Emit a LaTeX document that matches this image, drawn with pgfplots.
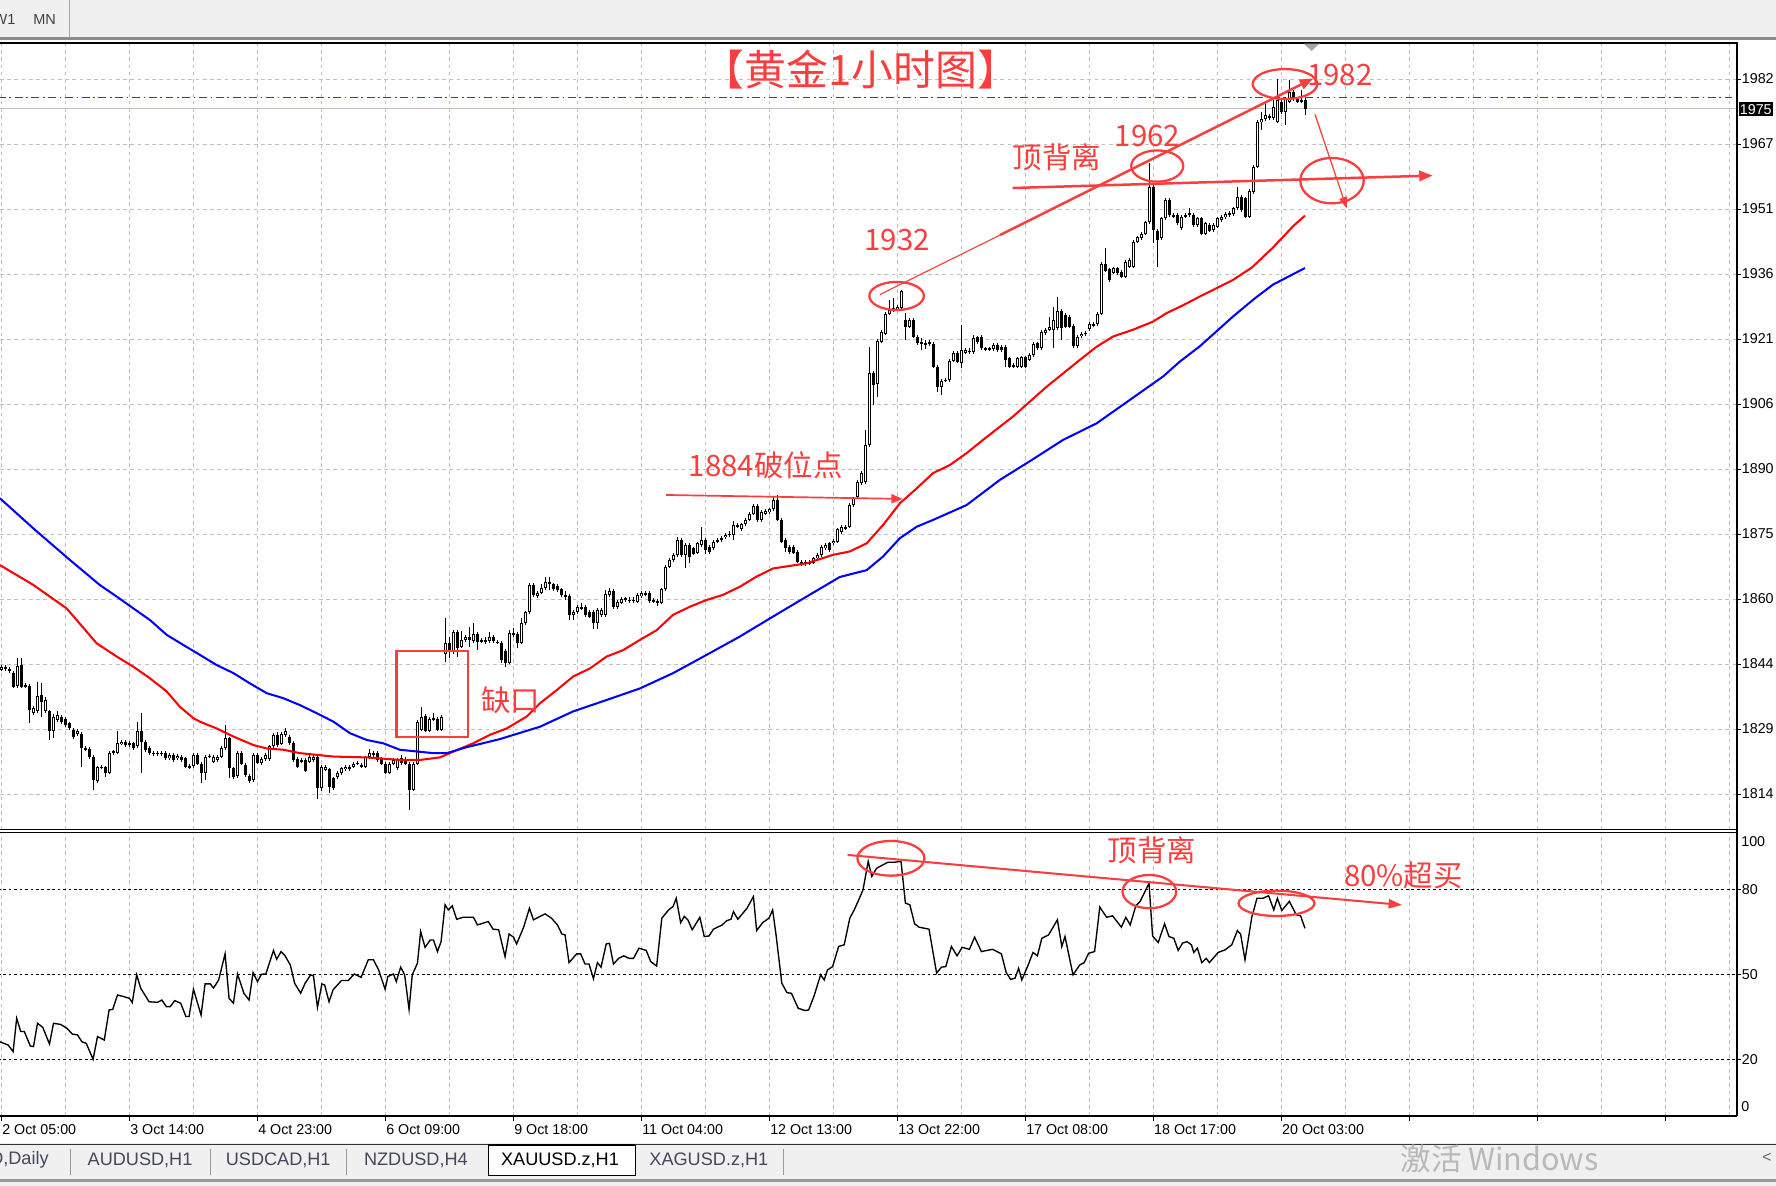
\documentclass[border=0pt]{standalone}
\usepackage{fontspec}
\setmainfont{Liberation Sans}
\newfontfamily\cjk{Noto Sans CJK SC}
\usepackage{pgfplots}
\pgfplotsset{compat=1.18}
\usepackage{pgfplotstable}
\usetikzlibrary{arrows.meta}

\definecolor{annot}{RGB}{250,62,62}
\definecolor{gridc}{RGB}{192,192,192}
\definecolor{barbg}{RGB}{240,240,240}
\definecolor{tabtxt}{RGB}{70,70,90}

\pgfplotstableread{
x o h l c
0 1843.2 1844.4 1842.8 1843.9
1 1843.9 1844.3 1842.9 1843.3
2 1843.4 1843.8 1842.4 1842.8
3 1842.4 1842.8 1838.8 1839.2
4 1839.4 1845.9 1839.0 1844.1
5 1844.3 1845.9 1838.8 1839.2
6 1839.2 1840.0 1838.9 1839.6
7 1839.4 1839.8 1830.8 1833.8
8 1833.0 1834.6 1832.6 1834.2
9 1833.4 1840.4 1833.0 1837.0
10 1837.3 1840.2 1832.2 1835.7
11 1833.4 1836.9 1833.0 1836.1
12 1833.4 1833.8 1826.7 1828.7
13 1828.7 1832.8 1827.1 1832.2
14 1831.4 1833.4 1831.0 1832.6
15 1832.2 1832.6 1830.4 1831.0
16 1831.6 1832.0 1829.8 1830.2
17 1830.6 1831.0 1829.0 1829.5
18 1829.1 1829.5 1827.0 1827.5
19 1828.1 1829.3 1827.7 1828.9
20 1828.1 1828.5 1820.4 1824.8
21 1824.8 1825.2 1824.0 1824.4
22 1824.5 1825.0 1822.2 1822.6
23 1822.8 1823.2 1815.0 1817.3
24 1817.1 1820.6 1816.6 1820.3
25 1820.2 1820.8 1819.8 1820.4
26 1820.3 1820.7 1818.0 1818.9
27 1819.0 1824.0 1818.6 1823.6
28 1823.6 1824.4 1823.2 1824.0
29 1823.7 1828.9 1823.3 1825.9
30 1825.8 1826.7 1825.4 1826.3
31 1826.3 1826.8 1825.1 1825.5
32 1825.5 1826.4 1825.0 1825.9
33 1825.9 1826.3 1824.3 1824.8
34 1825.2 1831.0 1824.8 1828.7
35 1828.7 1833.0 1818.9 1826.3
36 1826.3 1826.7 1823.9 1824.4
37 1824.8 1825.2 1823.1 1823.6
38 1823.7 1824.1 1823.0 1823.4
39 1823.4 1824.2 1822.9 1823.7
40 1823.7 1824.1 1823.0 1823.4
41 1823.6 1824.0 1822.0 1822.4
42 1822.4 1823.6 1822.0 1823.2
43 1823.2 1823.6 1821.6 1822.0
44 1822.4 1823.4 1822.0 1823.0
45 1822.8 1823.2 1821.6 1822.0
46 1822.4 1822.8 1820.0 1820.4
47 1820.6 1821.0 1819.9 1820.3
48 1820.6 1823.6 1820.2 1823.2
49 1823.2 1823.6 1820.7 1821.1
50 1821.1 1821.5 1816.5 1818.9
51 1818.9 1823.2 1817.3 1822.8
52 1822.8 1823.4 1822.4 1823.0
53 1821.6 1823.2 1821.2 1822.8
54 1822.0 1823.2 1821.6 1822.8
55 1822.8 1825.2 1822.4 1824.8
56 1824.8 1830.2 1824.4 1827.1
57 1827.1 1827.5 1817.7 1820.0
58 1820.0 1820.4 1817.5 1818.1
59 1818.2 1824.0 1817.8 1823.6
60 1823.6 1824.0 1820.7 1821.1
61 1820.8 1821.2 1818.0 1818.5
62 1818.2 1818.6 1816.5 1817.1
63 1817.3 1823.6 1816.9 1823.2
64 1823.2 1823.6 1821.0 1821.4
65 1821.2 1822.6 1820.8 1822.2
66 1822.2 1823.6 1821.8 1823.2
67 1822.2 1825.6 1821.8 1825.2
68 1825.3 1828.3 1824.9 1827.9
69 1827.9 1828.5 1825.1 1825.5
70 1825.8 1828.5 1825.4 1828.1
71 1827.9 1829.5 1827.5 1828.7
72 1827.5 1827.9 1825.5 1825.9
73 1826.1 1826.5 1821.6 1822.0
74 1822.2 1822.6 1820.0 1820.4
75 1821.6 1822.4 1821.2 1822.0
76 1822.0 1822.4 1819.1 1819.5
77 1821.6 1823.2 1821.2 1822.8
78 1822.0 1823.4 1821.6 1822.8
79 1822.8 1823.2 1812.8 1815.3
80 1815.3 1820.8 1814.8 1820.4
81 1819.7 1820.9 1819.3 1820.4
82 1819.8 1820.2 1814.2 1815.7
83 1817.7 1818.1 1814.9 1815.3
84 1817.9 1819.3 1817.5 1818.9
85 1818.9 1820.4 1818.5 1820.0
86 1819.8 1820.7 1819.4 1820.3
87 1820.3 1820.7 1819.4 1819.8
88 1820.4 1821.5 1820.0 1821.1
89 1821.1 1821.8 1820.7 1821.4
90 1820.4 1821.4 1820.0 1820.8
91 1820.4 1823.0 1820.0 1822.6
92 1822.6 1824.6 1822.2 1823.7
93 1823.7 1824.1 1822.8 1823.2
94 1823.6 1824.0 1821.6 1822.0
95 1822.4 1822.8 1820.7 1821.1
96 1821.1 1821.5 1818.6 1819.0
97 1819.0 1821.5 1818.6 1821.1
98 1821.1 1822.4 1820.7 1822.0
99 1820.0 1822.4 1819.6 1822.0
100 1822.4 1823.2 1820.8 1821.2
101 1822.2 1822.6 1820.7 1821.1
102 1821.1 1821.5 1810.3 1815.0
103 1815.0 1821.5 1814.6 1821.1
104 1821.1 1831.4 1820.7 1831.0
105 1829.1 1834.5 1828.7 1832.2
106 1832.3 1832.7 1828.5 1828.9
107 1828.9 1832.0 1828.5 1831.6
108 1831.6 1833.0 1831.2 1831.8
109 1831.6 1832.0 1828.7 1829.1
110 1829.1 1832.6 1828.7 1832.2
111 1847.0 1855.3 1845.1 1849.4
112 1849.6 1851.0 1845.9 1847.4
113 1847.4 1852.5 1847.0 1852.1
114 1852.1 1852.5 1846.3 1848.2
115 1848.6 1852.4 1848.2 1850.2
116 1850.2 1851.4 1849.8 1851.0
117 1851.0 1853.3 1848.6 1850.2
118 1850.0 1854.1 1849.6 1851.6
119 1851.6 1852.0 1847.8 1849.8
120 1849.8 1850.6 1849.4 1850.2
121 1850.2 1851.0 1849.2 1849.8
122 1850.0 1852.1 1849.6 1851.0
123 1851.0 1851.4 1849.6 1850.0
124 1849.8 1850.2 1849.2 1849.6
125 1849.6 1850.0 1844.7 1845.5
126 1847.7 1848.1 1843.9 1844.9
127 1844.9 1852.5 1844.5 1851.8
128 1851.8 1852.9 1851.0 1851.4
129 1851.6 1852.0 1848.2 1849.6
130 1849.6 1855.3 1849.2 1854.1
131 1854.1 1857.1 1853.7 1856.7
132 1856.7 1863.5 1856.3 1863.1
133 1863.1 1863.5 1860.4 1860.8
134 1860.5 1861.7 1860.1 1861.3
135 1861.3 1863.3 1860.9 1862.3
136 1862.3 1864.9 1861.9 1863.9
137 1863.9 1864.9 1861.9 1863.3
138 1863.3 1863.7 1861.7 1862.1
139 1862.9 1863.3 1861.5 1861.9
140 1862.1 1862.5 1860.4 1860.8
141 1860.8 1861.6 1859.6 1860.4
142 1860.5 1860.9 1854.9 1856.1
143 1856.1 1857.2 1854.9 1856.8
144 1856.8 1858.4 1856.4 1858.0
145 1858.0 1858.8 1857.2 1857.6
146 1858.0 1858.4 1855.7 1856.1
147 1856.8 1857.2 1855.3 1855.7
148 1856.8 1857.2 1852.7 1854.1
149 1854.1 1857.6 1852.7 1857.2
150 1856.1 1857.6 1855.7 1857.2
151 1856.1 1861.9 1855.7 1860.9
152 1860.8 1862.3 1860.4 1861.7
153 1861.7 1862.1 1857.5 1857.9
154 1857.9 1859.6 1857.5 1859.2
155 1859.0 1860.4 1858.6 1859.8
156 1859.6 1860.4 1859.2 1860.0
157 1859.7 1860.2 1859.0 1859.4
158 1859.4 1860.4 1858.8 1859.7
159 1859.2 1861.2 1858.8 1860.8
160 1860.5 1861.6 1860.1 1861.2
161 1861.2 1861.6 1860.5 1860.9
162 1861.2 1861.6 1859.0 1859.4
163 1859.7 1860.1 1858.8 1859.2
164 1859.4 1859.8 1858.2 1859.0
165 1859.0 1862.5 1858.6 1862.1
166 1862.1 1867.8 1861.7 1867.4
167 1867.4 1869.5 1867.0 1869.1
168 1869.0 1870.6 1868.6 1870.2
169 1870.2 1874.5 1869.8 1873.7
170 1873.8 1874.2 1869.8 1870.2
171 1870.2 1872.9 1867.0 1872.5
172 1872.5 1872.9 1868.2 1869.8
173 1871.7 1872.1 1870.1 1870.5
174 1870.7 1873.3 1870.3 1872.9
175 1872.5 1876.7 1872.1 1873.8
176 1873.8 1874.2 1870.4 1871.3
177 1872.0 1872.4 1870.5 1870.9
178 1871.7 1873.7 1871.3 1873.3
179 1873.3 1874.1 1872.9 1873.7
180 1873.7 1874.6 1873.3 1874.1
181 1874.3 1875.4 1873.9 1874.9
182 1874.9 1875.8 1874.5 1875.2
183 1874.9 1878.2 1873.8 1877.2
184 1877.2 1877.6 1876.4 1876.8
185 1876.2 1877.8 1875.8 1877.4
186 1877.4 1878.9 1877.0 1878.5
187 1878.5 1880.3 1878.1 1879.9
188 1879.9 1882.1 1879.5 1881.7
189 1881.7 1882.1 1878.0 1878.4
190 1878.4 1880.7 1878.0 1880.3
191 1879.9 1881.0 1879.5 1880.6
192 1880.3 1881.3 1879.9 1880.9
193 1880.9 1884.0 1880.5 1883.1
194 1883.1 1884.3 1878.1 1878.5
195 1878.5 1878.9 1872.9 1873.3
196 1873.7 1874.1 1870.9 1871.7
197 1872.1 1872.5 1870.5 1870.9
198 1872.1 1872.5 1870.3 1870.7
199 1870.9 1871.3 1868.2 1868.6
200 1868.6 1869.0 1867.6 1868.0
201 1868.0 1868.9 1867.6 1868.5
202 1868.2 1869.0 1867.8 1868.6
203 1868.4 1869.8 1868.0 1869.4
204 1869.4 1870.6 1869.0 1870.2
205 1870.2 1872.5 1869.8 1872.1
206 1871.7 1872.9 1871.3 1872.5
207 1872.9 1873.3 1870.9 1871.3
208 1872.9 1873.9 1872.5 1873.5
209 1873.3 1876.6 1872.9 1876.2
210 1875.6 1877.2 1875.2 1876.8
211 1876.8 1877.2 1876.0 1876.4
212 1876.8 1882.3 1876.4 1881.9
213 1881.9 1883.9 1881.5 1883.5
214 1883.7 1887.8 1883.3 1887.4
215 1887.0 1889.8 1886.6 1889.4
216 1887.2 1899.5 1886.8 1896.0
217 1896.0 1919.1 1895.6 1912.9
218 1912.9 1913.3 1905.4 1910.1
219 1910.3 1920.9 1907.4 1920.5
220 1920.3 1923.0 1919.9 1922.6
221 1922.2 1927.3 1921.8 1926.9
222 1926.9 1930.1 1926.5 1927.7
223 1927.7 1930.5 1927.3 1928.1
224 1927.9 1928.8 1927.5 1928.4
225 1928.1 1932.4 1927.7 1932.3
226 1925.4 1927.0 1920.7 1923.8
227 1923.8 1925.8 1923.4 1925.4
228 1925.4 1925.8 1921.1 1921.5
229 1921.5 1921.9 1919.5 1919.9
230 1920.1 1921.1 1918.3 1919.9
231 1919.9 1920.7 1918.6 1919.7
232 1919.8 1920.7 1919.2 1920.1
233 1919.7 1920.1 1914.0 1914.4
234 1914.4 1914.8 1908.5 1909.6
235 1909.6 1911.5 1907.8 1911.1
236 1911.1 1911.8 1910.7 1911.4
237 1911.3 1916.2 1910.9 1915.8
238 1915.8 1918.1 1915.4 1917.7
239 1917.7 1918.1 1915.2 1915.6
240 1915.2 1924.2 1914.0 1918.3
241 1917.7 1918.7 1917.3 1918.3
242 1918.1 1918.7 1917.5 1917.9
243 1917.9 1921.9 1917.5 1921.1
244 1921.3 1921.7 1919.7 1920.1
245 1921.5 1921.9 1918.3 1918.7
246 1918.7 1919.1 1918.0 1918.4
247 1918.4 1919.1 1918.0 1918.7
248 1918.5 1919.9 1918.1 1919.5
249 1919.5 1919.9 1917.9 1918.3
250 1919.1 1919.5 1917.9 1918.3
251 1919.1 1919.5 1914.4 1916.0
252 1916.4 1916.8 1914.0 1914.4
253 1914.4 1915.2 1914.0 1914.8
254 1914.4 1916.8 1914.0 1916.4
255 1914.4 1917.0 1914.0 1916.6
256 1916.6 1917.0 1914.0 1914.4
257 1916.1 1917.6 1915.7 1917.2
258 1917.2 1920.1 1916.8 1919.7
259 1919.9 1920.3 1918.3 1918.7
260 1918.7 1923.0 1918.3 1922.6
261 1922.3 1923.5 1921.9 1923.1
262 1923.1 1926.2 1922.7 1923.7
263 1923.1 1928.5 1918.7 1925.5
264 1923.4 1930.9 1923.0 1927.6
265 1927.6 1928.0 1920.7 1923.4
266 1926.6 1927.0 1923.4 1923.8
267 1926.2 1926.6 1923.4 1923.8
268 1924.0 1924.4 1918.9 1919.3
269 1919.3 1921.9 1918.9 1921.5
270 1921.6 1922.5 1921.2 1922.1
271 1922.1 1922.8 1921.7 1922.4
272 1923.2 1924.8 1922.8 1924.4
273 1924.4 1924.8 1923.7 1924.1
274 1924.4 1927.3 1924.0 1926.9
275 1926.9 1938.9 1926.5 1938.5
276 1938.5 1942.2 1936.6 1937.0
277 1937.3 1937.7 1934.4 1934.8
278 1936.5 1937.9 1936.1 1937.5
279 1937.5 1937.9 1936.0 1936.4
280 1936.7 1937.1 1935.2 1935.6
281 1935.6 1939.5 1935.2 1939.1
282 1937.9 1939.9 1937.5 1939.5
283 1937.9 1944.2 1937.5 1943.8
284 1943.8 1945.2 1943.4 1944.8
285 1944.6 1946.1 1944.2 1945.7
286 1945.7 1948.7 1945.3 1948.3
287 1948.3 1962.2 1947.9 1956.6
288 1956.6 1957.0 1943.4 1946.5
289 1946.4 1946.8 1937.9 1944.2
290 1944.7 1949.7 1944.3 1949.3
291 1949.3 1954.0 1948.9 1953.6
292 1953.6 1954.0 1949.7 1950.1
293 1950.1 1950.5 1949.3 1949.7
294 1950.1 1950.5 1947.7 1948.1
295 1946.9 1950.1 1946.5 1949.7
296 1949.7 1950.5 1949.3 1950.1
297 1950.1 1951.6 1949.7 1950.5
298 1950.1 1950.5 1947.3 1947.7
299 1947.7 1949.7 1947.3 1949.3
300 1949.3 1949.7 1945.3 1945.7
301 1945.7 1948.5 1945.3 1948.1
302 1947.7 1948.1 1946.0 1946.4
303 1946.5 1948.1 1946.1 1947.7
304 1947.3 1949.7 1946.9 1949.3
305 1948.9 1950.1 1948.5 1949.7
306 1949.5 1950.7 1949.1 1950.3
307 1950.1 1950.9 1949.7 1950.5
308 1950.3 1952.0 1949.9 1951.6
309 1951.6 1956.6 1951.2 1954.4
310 1954.4 1954.8 1950.8 1951.2
311 1954.0 1954.4 1949.3 1949.7
312 1949.7 1956.2 1949.3 1955.8
313 1955.5 1961.8 1955.1 1961.4
314 1961.4 1972.4 1961.0 1972.0
315 1972.0 1974.3 1970.0 1972.5
316 1972.5 1976.7 1972.1 1973.5
317 1973.3 1973.9 1972.4 1972.8
318 1972.8 1977.1 1972.4 1975.5
319 1972.0 1981.9 1971.6 1977.1
320 1976.7 1977.1 1973.9 1974.3
321 1974.3 1977.9 1971.2 1977.5
322 1976.7 1981.8 1976.3 1979.0
323 1979.0 1979.4 1976.8 1977.2
324 1977.2 1977.6 1976.3 1976.7
325 1976.7 1979.4 1976.3 1977.1
326 1977.1 1977.5 1973.5 1975.0
}\candles

\pgfplotsset{
  mtaxis/.style={
    scale only axis, width=766.75pt, anchor=north west,
    xmin=-0.475, xmax=433.8,
    axis line style={draw=none},
    tick align=outside,
    ytick pos=right, yticklabel pos=right,
    tick label style={font=\fontsize{6.3}{7}\selectfont, black},
    yticklabel style={anchor=west, inner sep=0pt},
    major tick length=2pt, minor tick length=0pt,
    tick style={black, line width=0.4pt},
    major grid style={gridc, dash pattern=on 1.6pt off 1.6pt, line width=0.45pt},
    minor grid style={gridc, dash pattern=on 1.6pt off 1.6pt, line width=0.45pt},
  }
}

\begin{document}
\begin{tikzpicture}
\path[use as bounding box] (0,0) rectangle (784pt,-523.5pt);
\fill[white] (0,0) rectangle (784pt,-523.5pt);

% ---------------- main price panel ----------------
\begin{axis}[mtaxis, at={(0pt,-18.75pt)}, height=347.35pt,
  ymin=1805.7, ymax=1990.6,
  xtick={0,16,...,432}, xticklabels={}, xtick style={draw=none},
  ytick={1814,1829.273,1844.545,1859.818,1875.091,1890.364,1905.636,1920.909,1936.182,1951.455,1966.727,1982},
  yticklabels={1814,1829,1844,1860,1875,1890,1906,1921,1936,1951,1967,1982},
  xmajorgrids, ymajorgrids,
]
\addplot[gridc, line width=0.5pt, forget plot] coordinates {(-1,1975.0) (440,1975.0)};
\addplot[green!45!black, line width=0.5pt, dash pattern=on 3.5pt off 1.6pt on 0.7pt off 1.6pt, forget plot] coordinates {(-1,1977.7) (440,1977.7)};
% wicks
\addplot[draw=none, mark=none, forget plot, error bars/.cd, y dir=both, y explicit, error mark=none,
  error bar style={draw=black, line width=0.44pt, solid}]
  table[x=x, y expr={0.5*(\thisrow{h}+\thisrow{l})}, y error expr={0.5*(\thisrow{h}-\thisrow{l})}] {\candles};
% bearish bodies
\addplot[draw=none, mark=none, forget plot, error bars/.cd, y dir=both, y explicit, error mark=none,
  error bar style={draw=black, line width=1.32pt, solid}]
  table[x=x, y expr={\thisrow{c}<\thisrow{o} ? 0.5*(\thisrow{o}+\thisrow{c}) : nan},
        y error expr={max(0.5*abs(\thisrow{o}-\thisrow{c}),0.12)}] {\candles};
% bullish bodies outline
\addplot[draw=none, mark=none, forget plot, error bars/.cd, y dir=both, y explicit, error mark=none,
  error bar style={draw=black, line width=1.32pt, solid}]
  table[x=x, y expr={\thisrow{c}<\thisrow{o} ? nan : 0.5*(\thisrow{o}+\thisrow{c})},
        y error expr={max(0.5*abs(\thisrow{o}-\thisrow{c}),0.12)}] {\candles};
% bullish bodies inside
\addplot[draw=none, mark=none, forget plot, error bars/.cd, y dir=both, y explicit, error mark=none,
  error bar style={draw=white, line width=0.44pt, solid}]
  table[x=x, y expr={\thisrow{c}<\thisrow{o} ? nan : 0.5*(\thisrow{o}+\thisrow{c})},
        y error expr={max(0.5*abs(\thisrow{o}-\thisrow{c})-0.235,0)}] {\candles};
% red MA
\addplot[red, line width=0.9pt, mark=none] coordinates {
(-0.5,1867.8)(7.9,1863.1)(16.2,1857.6)(23.7,1849.4)(28.7,1846.3)(32.9,1843.9)(37.0,1841.2)(41.2,1838.1)(44.5,1834.5)(47.9,1831.8)(49.5,1831.0)(53.7,1829.4)(57.9,1827.5)(62.9,1825.5)(66.2,1824.7)(70.4,1824.4)(74.5,1823.6)(78.7,1823.2)(82.9,1822.8)(91.2,1822.6)(99.5,1822.0)(104.5,1822.0)(109.5,1822.6)(113.7,1824.3)(117.8,1825.9)(122.0,1827.9)(126.2,1829.4)(131.2,1832.2)(134.5,1835.3)(138.7,1838.4)(142.8,1841.6)(147.0,1843.5)(151.2,1846.3)(155.3,1847.8)(159.5,1850.2)(163.7,1852.5)(167.8,1856.1)(172.0,1858.0)(176.2,1859.6)(180.3,1860.8)(184.5,1862.7)(188.7,1865.1)(192.8,1867.0)(197.0,1867.6)(201.2,1868.2)(207.8,1870.2)(212.0,1871.0)(216.2,1872.9)(220.3,1877.2)(224.5,1882.3)(228.7,1885.8)(232.8,1889.4)(237.0,1891.3)(241.2,1894.1)(245.3,1897.2)(249.5,1900.3)(252.8,1902.7)(261.2,1909.7)(269.5,1916.0)(273.7,1919.1)(277.8,1921.5)(282.8,1923.1)(287.8,1925.0)(291.2,1927.0)(295.0,1928.7)(299.5,1930.9)(307.8,1934.8)(312.5,1937.7)(317.8,1942.4)(322.8,1947.4)(325.8,1949.9)};
% blue MA
\addplot[blue, line width=0.9pt, mark=none] coordinates {
(-0.5,1883.5)(8.0,1876.3)(17.0,1869.0)(24.5,1863.1)(28.7,1860.4)(32.9,1857.6)(37.0,1854.9)(41.2,1851.4)(45.4,1849.0)(49.5,1846.7)(53.7,1844.3)(57.9,1842.4)(62.0,1840.0)(66.2,1837.7)(70.4,1836.5)(74.5,1834.9)(78.7,1833.0)(82.9,1831.0)(87.0,1828.3)(91.2,1826.7)(95.4,1825.9)(99.5,1824.4)(103.7,1824.0)(107.9,1823.6)(111.2,1823.6)(116.2,1825.0)(124.5,1826.9)(134.5,1829.8)(142.8,1833.4)(151.2,1836.1)(159.5,1838.8)(167.8,1842.4)(176.2,1846.7)(184.5,1851.0)(192.8,1855.7)(201.2,1860.4)(209.5,1865.0)(216.2,1866.6)(220.3,1869.8)(224.5,1874.1)(228.7,1876.8)(232.8,1878.4)(241.2,1881.9)(249.5,1887.8)(257.5,1892.5)(265.3,1897.2)(273.7,1901.1)(282.0,1906.6)(290.3,1912.1)(294.5,1915.6)(299.5,1919.2)(307.8,1926.2)(313.3,1930.5)(317.8,1933.7)(325.8,1937.6)};
\end{axis}

% ---------------- indicator panel ----------------
\begin{axis}[mtaxis, at={(0pt,-367.5pt)}, height=125.15pt,
  ymin=0, ymax=100,
  xtick={0,32,...,416},
  xticklabels={2 Oct 05:00,3 Oct 14:00,4 Oct 23:00,6 Oct 09:00,9 Oct 18:00,11 Oct 04:00,12 Oct 13:00,13 Oct 22:00,17 Oct 08:00,18 Oct 17:00,20 Oct 03:00,,,},
  minor xtick={16,48,...,432},
  xtick pos=bottom,
  xticklabel style={anchor=north west, inner sep=0pt, yshift=-1.5pt},
  ytick={20,50,80}, yticklabels={20,50,80},
  xmajorgrids, xminorgrids,
]
\addplot[black, line width=0.45pt, dash pattern=on 1.2pt off 1.2pt, forget plot] coordinates {(-1,20)(440,20)};
\addplot[black, line width=0.45pt, dash pattern=on 1.2pt off 1.2pt, forget plot] coordinates {(-1,50)(440,50)};
\addplot[black, line width=0.45pt, dash pattern=on 1.2pt off 1.2pt, forget plot] coordinates {(-1,80)(440,80)};
\addplot[black, line width=0.6pt, mark=none] coordinates {
(-0.5,26.2)(1.6,25.0)(2.8,22.7)(3.7,34.5)(4.7,29.8)(5.6,29.8)(7.1,24.7)(7.9,24.5)(8.9,32.7)(10.2,31.3)(11.9,25.4)(12.9,32.7)(14.7,32.3)(16.3,30.9)(17.6,28.9)(18.9,28.6)(20.0,26.2)(21.1,25.6)(22.8,20.0)(23.9,28.0)(25.6,26.8)(26.8,37.4)(27.7,37.6)(28.9,42.7)(30.5,42.1)(31.9,41.5)(32.6,40.0)(33.7,49.8)(34.7,45.1)(36.8,40.3)(38.9,40.1)(40.0,40.9)(41.1,38.6)(42.1,38.6)(43.2,40.7)(44.7,39.8)(46.0,35.1)(46.8,35.1)(47.9,44.7)(49.8,35.6)(50.8,46.6)(52.1,46.6)(52.9,45.1)(54.2,48.0)(55.8,57.2)(56.8,41.5)(57.9,39.8)(58.9,50.1)(60.5,43.3)(61.8,40.9)(62.8,50.6)(63.9,47.4)(64.9,50.0)(66.0,50.1)(67.9,58.4)(68.7,55.3)(69.8,58.0)(70.8,56.5)(72.1,53.3)(73.2,46.8)(74.7,43.3)(75.8,46.8)(77.2,49.8)(77.9,49.4)(78.9,38.3)(80.0,46.6)(80.7,46.2)(81.8,40.3)(82.8,44.5)(84.9,47.8)(86.6,47.8)(88.1,50.1)(89.8,48.9)(91.6,55.1)(92.9,55.1)(94.2,51.5)(95.8,44.7)(96.5,49.2)(97.9,50.1)(98.6,47.4)(99.7,52.5)(100.7,49.8)(101.8,37.6)(102.6,49.8)(103.9,53.9)(104.7,65.1)(105.8,59.5)(107.1,62.1)(107.9,62.1)(108.9,58.0)(109.8,61.5)(110.8,74.5)(111.6,72.7)(112.6,74.1)(113.7,69.4)(115.3,70.1)(117.2,70.1)(117.9,70.1)(118.9,67.4)(121.6,68.6)(122.8,65.9)(124.2,65.7)(125.8,56.2)(126.8,64.2)(127.9,63.1)(128.7,60.7)(130.5,66.8)(131.9,73.3)(132.9,69.2)(135.8,71.3)(137.4,69.8)(138.9,67.4)(140.0,64.2)(140.8,63.9)(141.8,54.1)(143.7,57.2)(144.7,57.2)(145.8,53.6)(146.8,53.6)(147.9,48.4)(148.9,54.1)(149.8,52.5)(151.1,60.7)(151.9,60.9)(152.9,53.6)(154.2,55.6)(155.5,56.5)(156.8,55.6)(157.9,55.6)(159.3,59.2)(161.1,58.4)(162.2,54.5)(163.7,52.9)(165.0,69.8)(166.7,72.7)(167.8,73.9)(168.6,76.8)(169.7,68.2)(170.6,70.4)(171.5,69.2)(172.6,65.7)(174.5,70.1)(175.6,63.3)(176.8,63.5)(177.9,65.9)(180.1,67.4)(181.2,68.9)(182.3,69.4)(182.9,72.1)(184.0,69.4)(186.3,73.3)(187.9,77.4)(188.7,65.4)(190.2,68.2)(191.8,69.8)(192.7,72.7)(193.5,64.5)(195.0,46.8)(196.3,43.5)(197.4,43.3)(199.1,38.0)(200.8,37.2)(201.7,37.4)(203.0,42.1)(204.7,49.8)(205.6,48.0)(206.4,51.5)(207.7,52.7)(209.2,59.8)(210.6,60.4)(212.0,69.8)(213.1,72.7)(214.4,76.8)(215.3,79.8)(216.6,89.8)(217.5,84.5)(218.7,87.4)(221.5,89.5)(223.1,89.5)(224.8,89.8)(225.9,75.1)(227.0,74.5)(228.2,67.8)(229.3,66.6)(231.8,65.9)(233.7,50.4)(234.9,52.5)(236.0,52.7)(237.4,59.8)(238.8,56.5)(240.1,59.5)(241.9,58.8)(243.2,63.1)(244.9,58.0)(247.7,58.8)(249.9,57.2)(251.1,50.6)(252.2,48.2)(253.3,48.6)(254.2,52.1)(255.0,48.0)(256.6,53.3)(257.8,57.7)(258.9,56.5)(260.0,62.7)(261.7,63.9)(263.9,69.2)(265.0,59.8)(265.8,63.3)(267.8,49.8)(269.5,53.3)(270.6,54.1)(271.7,57.4)(273.2,58.0)(274.5,73.7)(276.2,70.1)(277.7,70.6)(279.9,66.6)(281.0,70.1)(282.1,67.4)(283.5,74.1)(284.6,75.7)(286.8,82.1)(287.7,63.5)(289.1,61.2)(290.7,67.8)(291.8,63.3)(293.0,62.7)(294.1,58.4)(295.2,61.0)(296.3,61.5)(297.4,60.4)(298.0,57.7)(298.9,59.2)(300.0,54.1)(301.1,55.6)(301.9,54.1)(304.1,57.7)(305.8,58.6)(307.5,60.4)(308.9,65.4)(309.7,64.2)(310.8,55.1)(312.5,70.1)(313.8,76.8)(315.3,76.8)(316.7,77.7)(318.0,72.7)(318.9,76.8)(320.0,72.5)(321.9,75.7)(323.6,71.0)(324.7,70.6)(325.8,66.2)};
\end{axis}

% ---------------- frame, toolbars and annotations (1 unit = 1 px of a 1568 x 1047 image) ----------------
\begin{scope}[x=0.5pt,y=-0.5pt]
  % top toolbar
  \fill[barbg] (0,0) rectangle (1568,33.5);
  \draw[black!45, line width=1pt] (0,34) -- (1568,34);
  \draw[black!35, line width=0.5pt] (61,0) -- (61,33);
  \node[anchor=west, inner sep=0pt, text=black!75, font=\fontsize{6.4}{7}\selectfont] at (-6,17) {W1};
  \node[anchor=west, inner sep=0pt, text=black!75, font=\fontsize{6.4}{7}\selectfont] at (29,17) {MN};
  % chart frame
  \draw[black, line width=1pt] (0,37.8) -- (1533.5,37.8);
  \draw[black, line width=0.5pt] (1533.5,37.5) -- (1533.5,985.3);
  \draw[black, line width=0.5pt] (0,732.2) -- (1533.5,732.2);
  \draw[black, line width=0.5pt] (0,734.8) -- (1533.5,734.8);
  \draw[black, line width=0.5pt] (0,985.3) -- (1533.5,985.3);
  \fill[black!35] (1151,38.5) -- (1165,38.5) -- (1158,45) -- cycle;
  \node[fill=black, text=white, anchor=west, inner xsep=0.6pt, inner ysep=0.9pt, font=\fontsize{6.3}{7}\selectfont] at (1534.5,96.5) {1975};
  % indicator scale ends
  \node[anchor=west, inner sep=0pt, font=\fontsize{6.3}{7}\selectfont] at (1537,743) {100};
  \node[anchor=west, inner sep=0pt, font=\fontsize{6.3}{7}\selectfont] at (1537,977) {0};
  % bottom tab bar
  \fill[barbg] (0,1009) rectangle (1568,1047);
  \draw[black!80, line width=0.7pt] (0,1010.5) -- (1568,1010.5);
  \fill[white] (431,1010.5) rectangle (561,1038);
  \draw[black, line width=0.6pt] (431,1010.5) -- (431,1038) -- (561,1038) -- (561,1010.5);
  \draw[black, line width=1pt] (431,1011) -- (561,1011);
  \foreach \sx in {62,186,306,692} {\draw[black!40, line width=0.5pt] (\sx,1014) -- (\sx,1037);}
  \draw[black!40, line width=1.2pt] (0,1042.5) -- (1568,1042.5);
  \begin{scope}[every node/.style={anchor=west, inner sep=0pt, text=tabtxt, font=\fontsize{8}{9}\selectfont}]
    \node at (-9,1024) {D,Daily};
    \node at (77,1024) {AUDUSD,H1};
    \node at (199,1024) {USDCAD,H1};
    \node at (321,1024) {NZDUSD,H4};
    \node[text=black] at (442,1024) {XAUUSD.z,H1};
    \node at (573,1024) {XAGUSD.z,H1};
  \end{scope}
  \node[anchor=west, inner sep=0pt, text=black!28, font=\cjk\fontsize{13.5}{15}\selectfont] at (1236,1023) {激活 Windows};
  \node[anchor=center, inner sep=0pt, text=black!60, font=\fontsize{7}{8}\selectfont] at (1560,1022) {<};

  % red hand-drawn annotations
  \node[text=annot, font=\cjk\fontsize{18.5}{20}\selectfont] at (760,61) {【黄金1小时图】};
  \begin{scope}[every node/.style={text=annot, font=\cjk\fontsize{13}{15}\selectfont}]
    \node at (1183,66) {1982};
    \node at (1013,120) {1962};
    \node at (792,212) {1932};
    \node at (676,411) {1884破位点};
    \node at (933,139) {顶背离};
    \node at (451,618) {缺口};
    \node at (1017,751) {顶背离};
    \node at (1239,773) {80\%超买};
  \end{scope}
  \draw[annot, line width=1pt] (350,575) rectangle (413,651);
  \draw[annot, line width=0.75pt, -{Triangle[length=5pt,width=4pt]}] (588,437) -- (797,440.5);
  \draw[annot, line width=0.5pt] (777,260) -- (883,207.5);
  \draw[annot, line width=1.1pt, -{Triangle[length=6pt,width=4.5pt]}] (883,207.5) -- (1159.5,69.2);
  \draw[annot, line width=1.1pt, -{Triangle[length=6pt,width=4.5pt]}] (894,166) -- (1265,155);
  \draw[annot, line width=0.55pt, -{Triangle[length=5pt,width=3.5pt]}] (1161,101) -- (1189,184);
  \draw[annot, line width=1pt] (791.6,261.3) ellipse [x radius=24.1, y radius=12.4];
  \draw[annot, line width=1pt] (1021.7,146.6) ellipse [x radius=23, y radius=13.8];
  \draw[annot, line width=1pt] (1134.5,74.2) ellipse [x radius=28.5, y radius=13.2];
  \draw[annot, line width=1pt] (1176,159.5) ellipse [x radius=28, y radius=20];
  \draw[annot, line width=0.9pt, -{Triangle[length=6pt,width=4pt]}] (748.3,754.8) -- (1238,799);
  \draw[annot, line width=1pt] (786.6,757.8) ellipse [x radius=29.6, y radius=15.3];
  \draw[annot, line width=1pt] (1014.7,787.2) ellipse [x radius=23.7, y radius=14.7];
  \draw[annot, line width=1pt] (1127,797.5) ellipse [x radius=33.5, y radius=11.2];
\end{scope}
\end{tikzpicture}
\end{document}
